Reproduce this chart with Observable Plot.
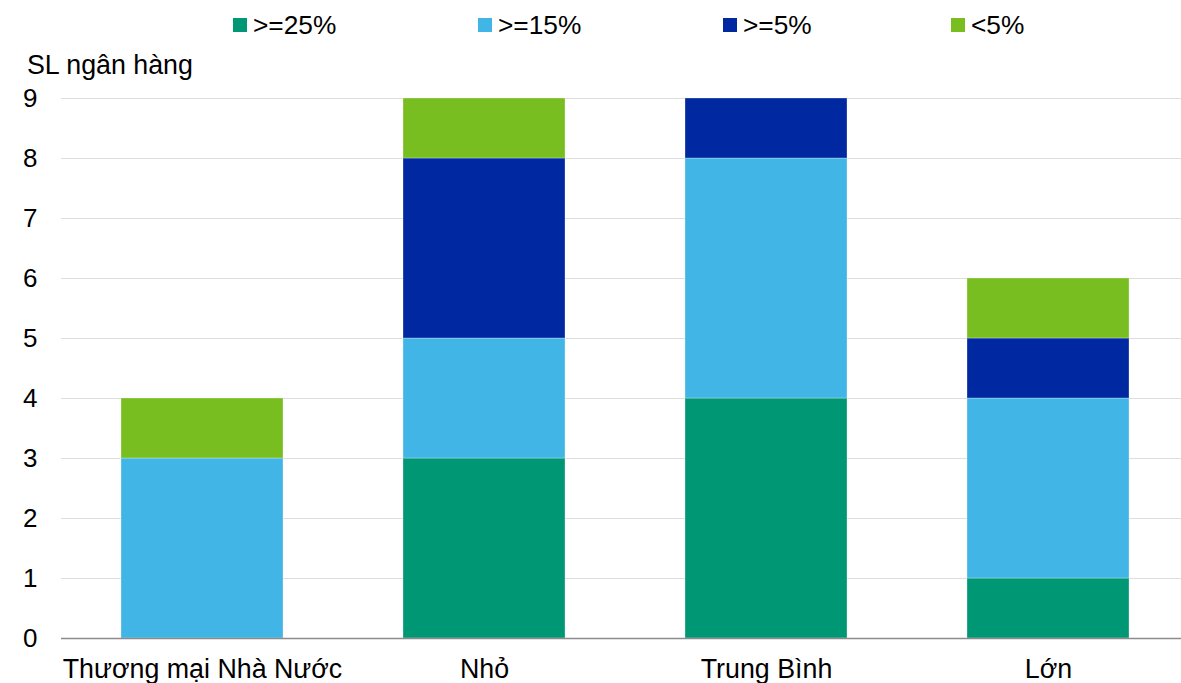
<!DOCTYPE html>
<html>
<head>
<meta charset="utf-8">
<script src="https://cdn.jsdelivr.net/npm/d3@7"></script>
<script src="https://cdn.jsdelivr.net/npm/@observablehq/plot@0.6"></script>
<style>
  html, body { margin: 0; padding: 0; background: #fff; }
  body { font-family: "Liberation Sans", Arial, sans-serif; color: #000; }
  #wrap { width: 1181px; }
  #legend { position: relative; height: 50px; }
  .item { position: absolute; top: 9px; height: 32px; display: flex; align-items: center; font-size: 26.3px; line-height: 32px; }
  .sw { width: 14px; height: 14px; margin-right: 6px; }
  #ylabel { height: 30px; line-height: 30px; font-size: 26.8px; padding-left: 27px; }
</style>
</head>
<body>
<div id="wrap">
  <div id="legend"></div>
  <div id="ylabel"></div>
  <div id="chart"></div>
</div>
<script>
const categories = ["Thương mại Nhà Nước", "Nhỏ", "Trung Bình", "Lớn"];
const seriesNames = [">=25%", ">=15%", ">=5%", "<5%"];
const seriesColors = ["#009775", "#41b5e6", "#0028a0", "#78be21"];
const ge25 = [0, 3, 4, 1];
const ge15 = [3, 2, 4, 3];
const ge5 = [0, 3, 1, 1];
const lt5 = [1, 1, 0, 1];
const yTicks = [0, 1, 2, 3, 4, 5, 6, 7, 8, 9];
const yLabel = "SL ngân hàng";
const legendLeft = [233, 478, 723, 951];

const seriesValues = [ge25, ge15, ge5, lt5];
const rows = [];
seriesNames.forEach((s, si) => {
  categories.forEach((c, ci) => {
    rows.push({category: c, series: s, value: seriesValues[si][ci]});
  });
});

// Legend
const legend = document.getElementById("legend");
seriesNames.forEach((s, i) => {
  const it = document.createElement("div");
  it.className = "item";
  it.style.left = legendLeft[i] + "px";
  const sw = document.createElement("span");
  sw.className = "sw";
  sw.style.background = seriesColors[i];
  const tx = document.createElement("span");
  tx.textContent = s;
  it.appendChild(sw);
  it.appendChild(tx);
  legend.appendChild(it);
});
document.getElementById("ylabel").textContent = yLabel;

const chart = Plot.plot({
  width: 1181,
  height: 603,
  marginTop: 18,
  marginBottom: 45,
  marginLeft: 61,
  marginRight: 0,
  style: {fontFamily: "Liberation Sans, Arial, sans-serif", fontSize: "26px", color: "#000", background: "#fff"},
  x: {domain: categories, range: [0, 1250], padding: 0.426, label: null},
  y: {domain: [0, 9], ticks: yTicks, label: null},
  color: {domain: seriesNames, range: seriesColors},
  marks: [
    Plot.ruleY(yTicks.filter(d => d > 0), {stroke: "#dedede", strokeWidth: 1.2}),
    Plot.barY(rows, {x: "category", y: "value", fill: "series", stroke: "#ffffff", strokeOpacity: 0.3, strokeWidth: 1}),
    Plot.ruleY([0], {stroke: "#8c8c8c", strokeWidth: 1.5}),
    Plot.axisY({ticks: yTicks, tickSize: 0, tickPadding: 24, label: null, fontSize: 26}),
    Plot.axisX({tickSize: 0, tickPadding: 20, label: null, fontSize: 26.8})
  ]
});
document.getElementById("chart").appendChild(chart);
</script>
</body>
</html>
